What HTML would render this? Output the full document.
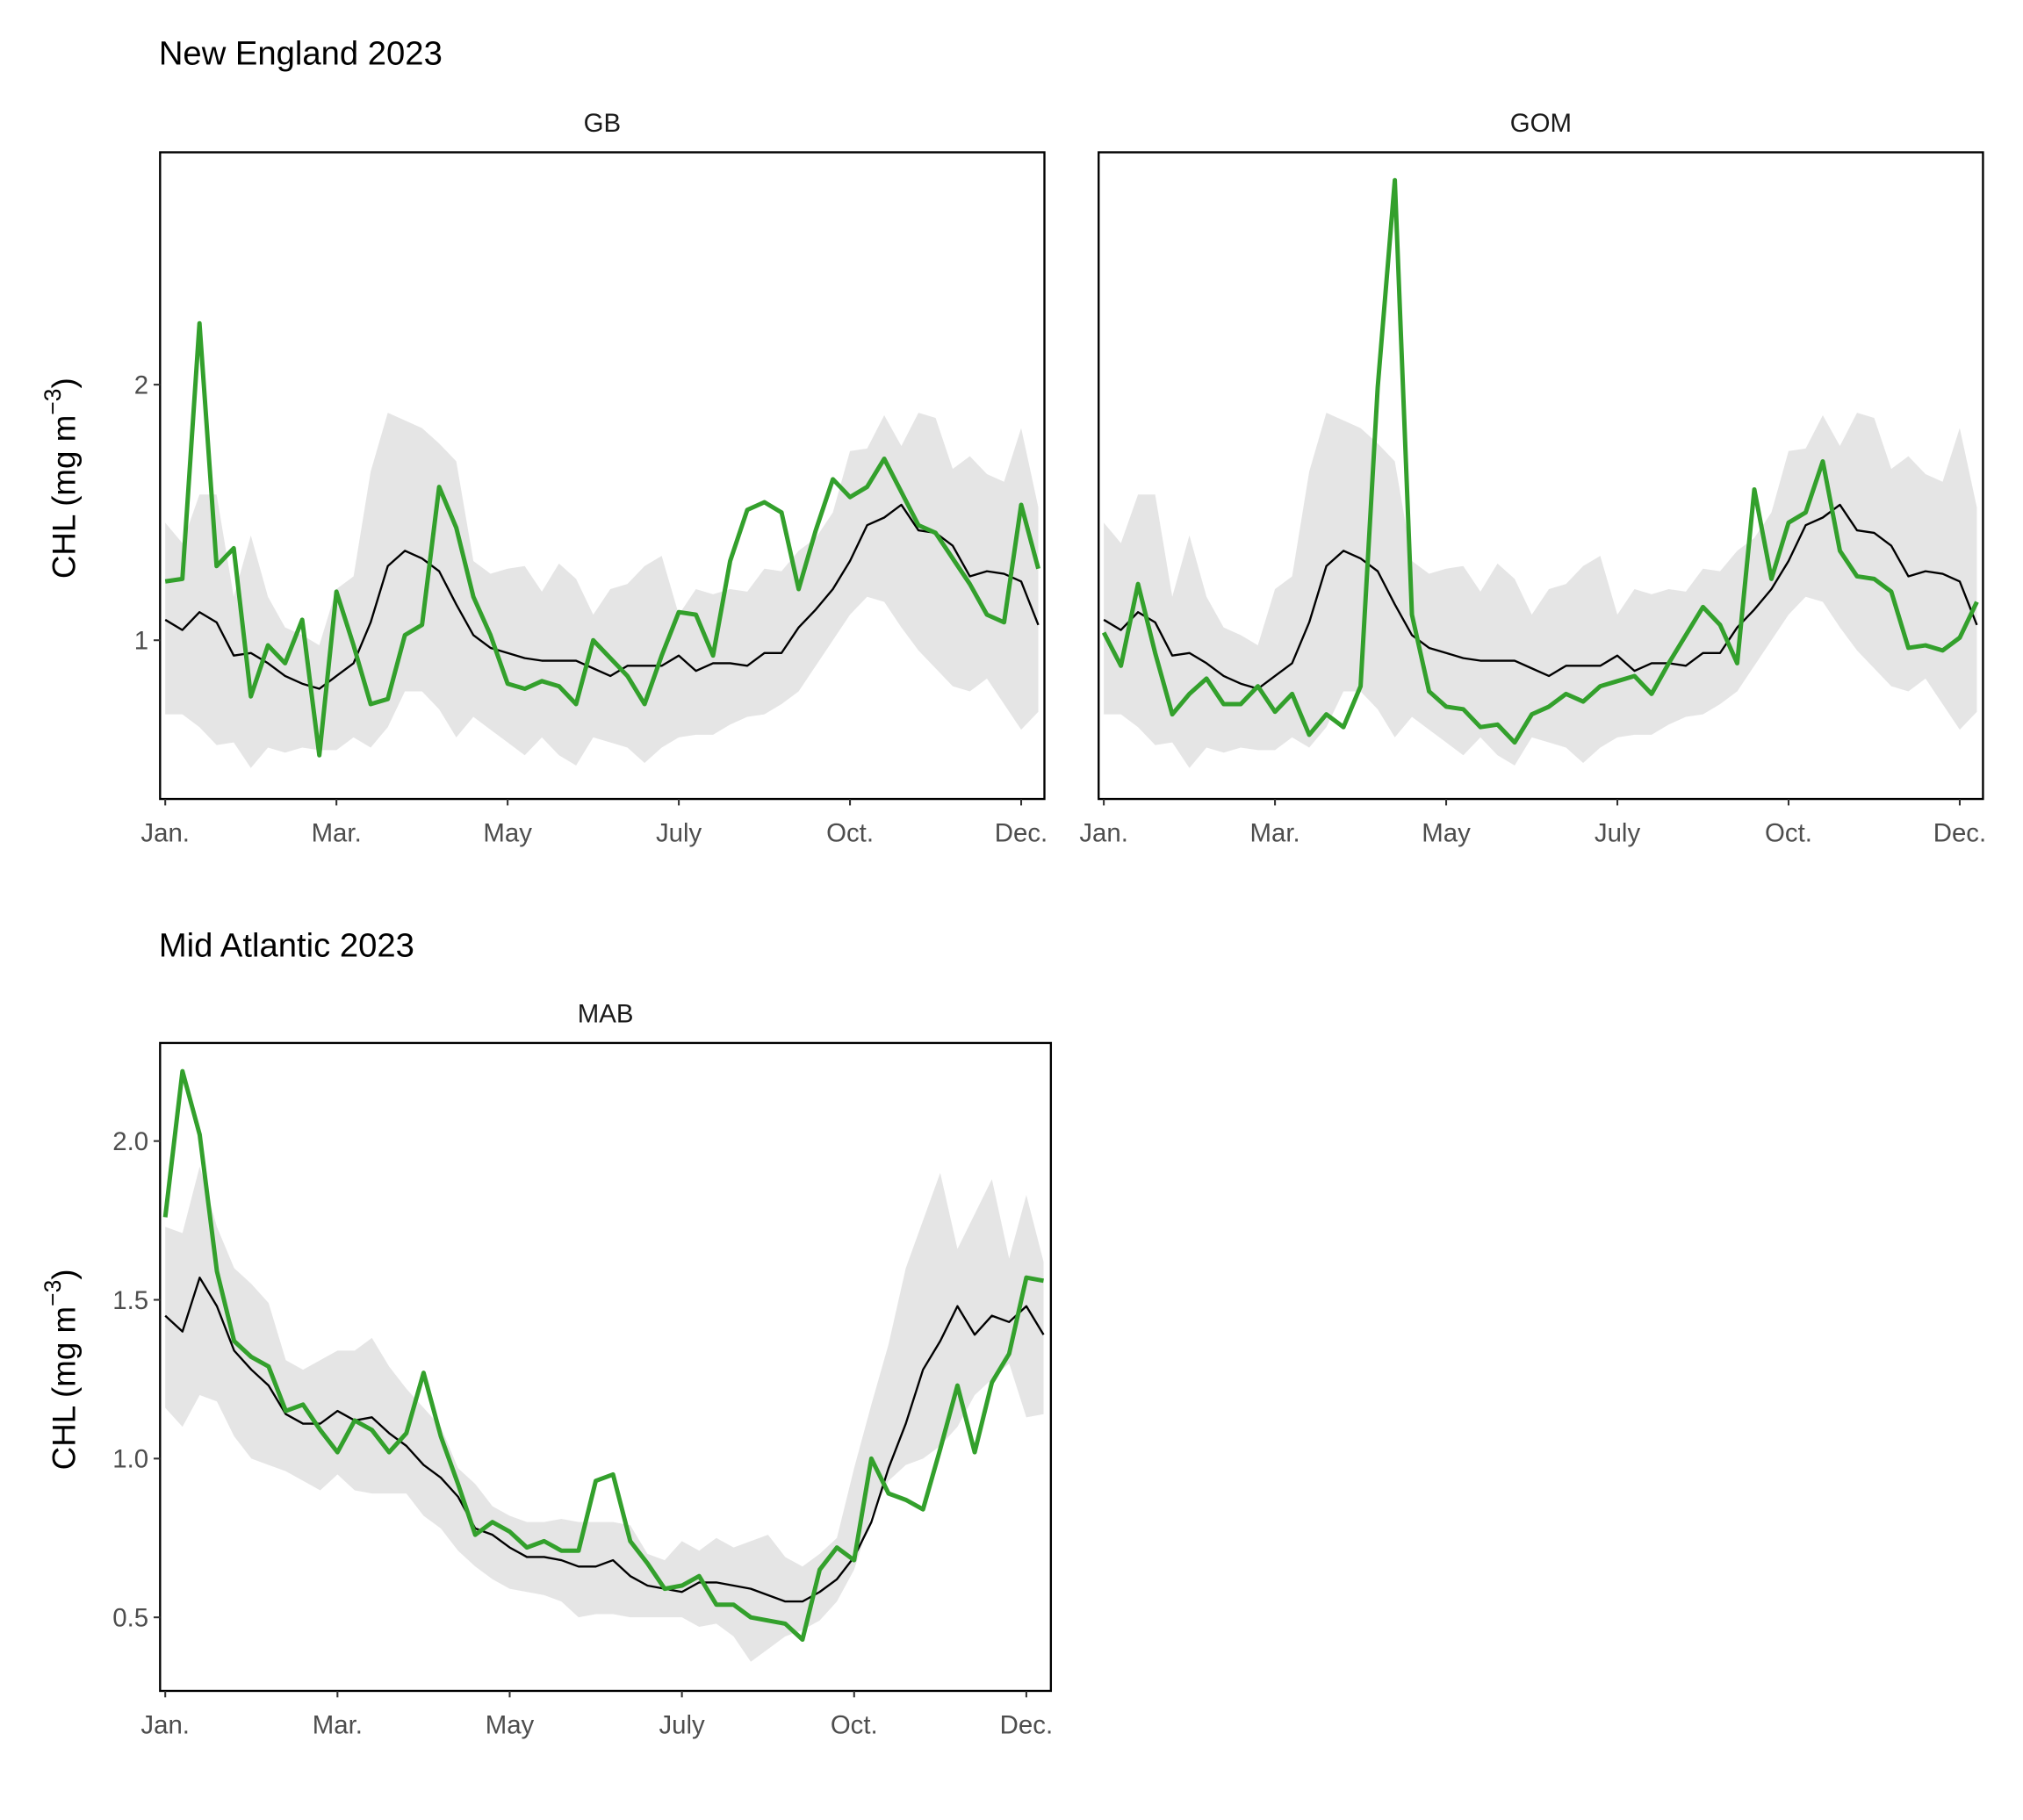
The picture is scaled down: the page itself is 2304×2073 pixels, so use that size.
<!DOCTYPE html>
<html><head><meta charset="utf-8"><style>html,body{margin:0;padding:0;background:#fff}svg{display:block}text{font-family:"Liberation Sans",Arial,sans-serif}</style></head>
<body>
<svg id="chart" width="2304" height="2073" viewBox="0 0 1567 1410" preserveAspectRatio="none" xmlns="http://www.w3.org/2000/svg">
<rect width="1567" height="1410" fill="#fff"/>
<text x="123" y="50" font-size="26" fill="#000">New England 2023</text>
<text x="123" y="741" font-size="26" fill="#000">Mid Atlantic 2023</text>
</svg>
<script>
const weeks=[];for(let i=1;i<=52;i++)weeks.push(i);
const tickWeeks=[1,11,21,31,41,51];
const tickLabels=["Jan.","Mar.","May","July","Oct.","Dec."];
const gbMean=[1.08,1.04,1.11,1.07,0.94,0.95,0.91,0.86,0.83,0.81,0.86,0.91,1.07,1.29,1.35,1.32,1.27,1.14,1.02,0.97,0.95,0.93,0.92,0.92,0.92,0.89,0.86,0.90,0.90,0.90,0.94,0.88,0.91,0.91,0.90,0.95,0.95,1.05,1.12,1.20,1.31,1.45,1.48,1.53,1.43,1.42,1.37,1.25,1.27,1.26,1.23,1.06];
const gbHigh=[1.46,1.38,1.57,1.57,1.17,1.41,1.17,1.05,1.02,0.98,1.20,1.25,1.66,1.89,1.86,1.83,1.77,1.70,1.31,1.26,1.28,1.29,1.19,1.30,1.24,1.10,1.20,1.22,1.29,1.33,1.10,1.20,1.18,1.20,1.19,1.28,1.27,1.35,1.40,1.50,1.74,1.75,1.88,1.76,1.89,1.87,1.67,1.72,1.65,1.62,1.83,1.52];
const gbLow=[0.71,0.71,0.66,0.59,0.60,0.50,0.58,0.56,0.58,0.57,0.57,0.62,0.58,0.66,0.80,0.80,0.73,0.62,0.70,0.65,0.60,0.55,0.62,0.55,0.51,0.62,0.60,0.58,0.52,0.58,0.62,0.63,0.63,0.67,0.70,0.71,0.75,0.80,0.90,1.00,1.10,1.17,1.15,1.05,0.96,0.89,0.82,0.80,0.85,0.75,0.65,0.72];
const gb2023=[1.23,1.24,2.24,1.29,1.36,0.78,0.98,0.91,1.08,0.55,1.19,0.98,0.75,0.77,1.02,1.06,1.60,1.44,1.17,1.02,0.83,0.81,0.84,0.82,0.75,1.00,0.93,0.86,0.75,0.94,1.11,1.10,0.94,1.31,1.51,1.54,1.50,1.20,1.43,1.63,1.56,1.60,1.71,1.58,1.45,1.42,1.32,1.22,1.10,1.07,1.53,1.28];
const gomMean=gbMean.slice();
const gomHigh=gbHigh.slice();
const gomLow=gbLow.slice();
const gom2023=[1.03,0.90,1.22,0.95,0.71,0.79,0.85,0.75,0.75,0.82,0.72,0.79,0.63,0.71,0.66,0.82,1.99,2.80,1.10,0.80,0.74,0.73,0.66,0.67,0.60,0.71,0.74,0.79,0.76,0.82,0.84,0.86,0.79,0.91,1.02,1.13,1.06,0.91,1.59,1.24,1.46,1.50,1.70,1.35,1.25,1.24,1.19,0.97,0.98,0.96,1.01,1.15];
const mabMean=[1.45,1.40,1.57,1.48,1.34,1.28,1.23,1.14,1.11,1.11,1.15,1.12,1.13,1.08,1.04,0.98,0.94,0.88,0.78,0.76,0.72,0.69,0.69,0.68,0.66,0.66,0.68,0.63,0.60,0.59,0.58,0.61,0.61,0.60,0.59,0.57,0.55,0.55,0.58,0.62,0.69,0.80,0.97,1.11,1.28,1.37,1.48,1.39,1.45,1.43,1.48,1.39];
const mabHigh=[1.73,1.71,1.92,1.73,1.60,1.55,1.49,1.31,1.28,1.31,1.34,1.34,1.38,1.29,1.22,1.16,1.10,0.97,0.92,0.85,0.82,0.80,0.80,0.81,0.80,0.80,0.80,0.79,0.70,0.68,0.74,0.71,0.75,0.72,0.74,0.76,0.69,0.66,0.70,0.75,0.97,1.17,1.36,1.60,1.75,1.90,1.66,1.77,1.88,1.63,1.83,1.62];
const mabLow=[1.16,1.10,1.20,1.18,1.07,1.00,0.98,0.96,0.93,0.90,0.95,0.90,0.89,0.89,0.89,0.82,0.78,0.71,0.66,0.62,0.59,0.58,0.57,0.55,0.50,0.51,0.51,0.50,0.50,0.50,0.50,0.47,0.48,0.44,0.36,0.40,0.44,0.46,0.49,0.55,0.65,0.82,0.93,0.98,1.00,1.04,1.10,1.20,1.25,1.30,1.13,1.14];
const mab2023=[1.76,2.22,2.02,1.59,1.37,1.32,1.29,1.15,1.17,1.09,1.02,1.12,1.09,1.02,1.08,1.27,1.07,0.92,0.76,0.80,0.77,0.72,0.74,0.71,0.71,0.93,0.95,0.74,0.67,0.59,0.60,0.63,0.54,0.54,0.50,0.49,0.48,0.43,0.65,0.72,0.68,1.00,0.89,0.87,0.84,1.03,1.23,1.02,1.24,1.33,1.57,1.56];
const topTicks=[1,2], topTickLabels=["1","2"];
const mabTicks=[0.5,1.0,1.5,2.0], mabTickLabels=["0.5","1.0","1.5","2.0"];

const svg=document.getElementById('chart');
const NS='http://www.w3.org/2000/svg';
function mk(tag,attrs,parent){const e=document.createElementNS(NS,tag);for(const k in attrs)e.setAttribute(k,attrs[k]);(parent||svg).appendChild(e);return e;}

function panel(cfg){
  const {id,x0,x1,y0,y1,xScale,yScale,mean,high,low,obs,yt,ytl,strip,showY}=cfg;
  const g=mk('g',{});
  
  
  let d='';
  weeks.forEach((w,i)=>{d+=(i?'L':'M')+xScale(w)+','+yScale(high[i]);});
  for(let i=weeks.length-1;i>=0;i--)d+='L'+xScale(weeks[i])+','+yScale(low[i]);
  const band=mk('path',{d:d+'Z',fill:'#e5e5e5',stroke:'none'},g);
  
  
  const m=mk('polyline',{points:weeks.map((w,i)=>xScale(w)+','+yScale(mean[i])).join(' '),fill:'none',stroke:'#000','stroke-width':1.6,'stroke-linejoin':'round'},g);
  
  
  const o=mk('polyline',{points:weeks.map((w,i)=>xScale(w)+','+yScale(obs[i])).join(' '),fill:'none',stroke:'#33a02c','stroke-width':3.4,'stroke-linejoin':'round'},g);
  
  
  const fr=mk('rect',{x:x0,y:y0,width:x1-x0,height:y1-y0,fill:'none',stroke:'#000','stroke-width':1.6},g);
  
  
  const st=mk('text',{x:(x0+x1)/2,y:y0-16,'font-size':20,'text-anchor':'middle',fill:'#1a1a1a'},g);
  st.textContent=strip;
  
  
  tickWeeks.forEach((w,i)=>{
    const x=xScale(w);
    mk('line',{x1:x,x2:x,y1:y1,y2:y1+5,stroke:'#333','stroke-width':1.4},g);
    const t=mk('text',{x:x,y:y1+33,'font-size':20,'text-anchor':'middle',fill:'#4d4d4d'},g);
    t.textContent=tickLabels[i];
    
    
  });
  yt.forEach((v,i)=>{
    const y=yScale(v);
    mk('line',{x1:x0-5,x2:x0,y1:y,y2:y,stroke:'#333','stroke-width':1.4},g);
    const t=mk('text',{x:x0-9,y:y+7,'font-size':20,'text-anchor':'end',fill:'#4d4d4d'},g);
    t.textContent=ytl[i];
    
    
  });
  if(showY){
    const cy=(y0+y1)/2+2;
    const t=mk('text',{x:0,y:0,'font-size':25,'text-anchor':'middle',fill:'#000',transform:'translate(58,'+cy+') rotate(-90)'},g);
    t.innerHTML='CHL (mg m<tspan dy="-11" font-size="18">\u22123</tspan><tspan dy="11">)</tspan>';
    
    
  }
}
function lin(d0,d1,r0,r1){return v=>r0+(v-d0)*(r1-r0)/(d1-d0);}
panel({id:'gb',x0:124,x1:809,y0:118,y1:619,xScale:lin(1,51,128,791),yScale:lin(1,2,496,298),mean:gbMean,high:gbHigh,low:gbLow,obs:gb2023,yt:topTicks,ytl:topTickLabels,strip:'GB',showY:true});
panel({id:'gom',x0:851,x1:1536,y0:118,y1:619,xScale:lin(1,51,855,1518),yScale:lin(1,2,496,298),mean:gomMean,high:gomHigh,low:gomLow,obs:gom2023,yt:[],ytl:[],strip:'GOM',showY:false});
panel({id:'mab',x0:124,x1:814,y0:808,y1:1310,xScale:lin(1,51,128,795),yScale:lin(1,2,1130,884),mean:mabMean,high:mabHigh,low:mabLow,obs:mab2023,yt:mabTicks,ytl:mabTickLabels,strip:'MAB',showY:true});
</script>
</body></html>
